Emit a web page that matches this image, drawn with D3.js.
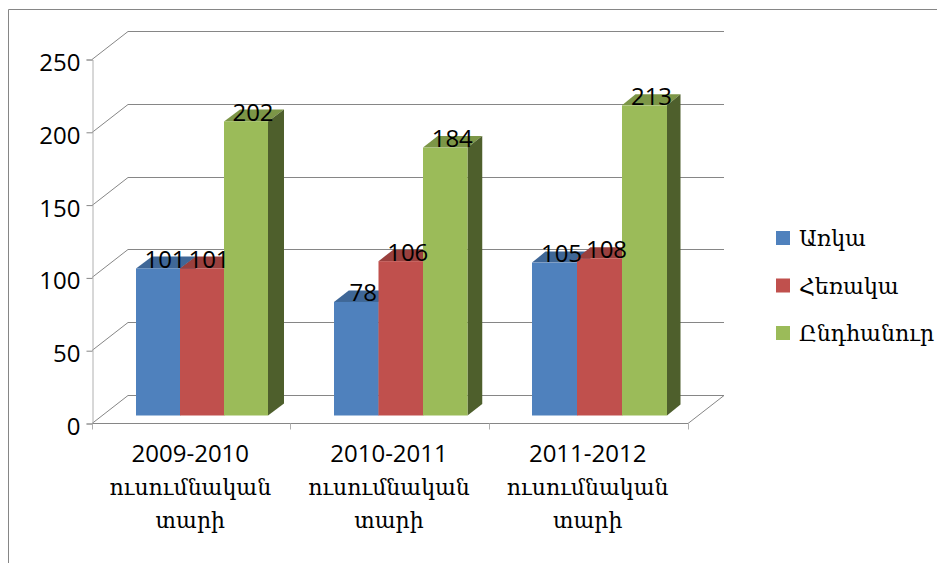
<!DOCTYPE html>
<html>
<head>
<meta charset="utf-8">
<script src="https://cdn.jsdelivr.net/npm/d3@7"></script>
<style>
	html, body { margin: 0; padding: 0; background: #fff; }
	svg { display: block; }
	text { font-family: "Open Sans", "DejaVu Serif", serif; fill: #000; }
	.hy { font-family: "DejaVu Serif", serif; }
</style>
</head>
<body>
<script>
// chart values
var years = ["2009-2010", "2010-2011", "2011-2012"];
var seriesNames = ["Առկա", "Հեռակա", "Ընդհանուր"];
var fulltime = [101, 78, 105];
var parttime = [101, 106, 108];
var total = [202, 184, 213];
var yTicks = [0, 50, 100, 150, 200, 250];
var yearWords = ["ուսումնական", "տարի"];

var seriesValues = [fulltime, parttime, total];
var frontColors = ["#4f81bd", "#c0504d", "#9bbb59"];
var topColors = ["#3f6797", "#9a403e", "#7c9647"];
var sideColors = ["#2f4d71", "#73302e", "#4e5f2c"];

var width = 937, height = 563;
var svg = d3.select("body").append("svg")
	.attr("width", width)
	.attr("height", height);

// frame, only top and left are inside the picture
svg.append("path")
	.attr("d", "M8.5," + height + "V9.5H" + width)
	.attr("fill", "none")
	.attr("stroke", "#868686");

var x = d3.scaleBand().domain(years).range([92, 688]);
var y = d3.scaleLinear().domain([0, 250]).range([423, 59]);

// bars sit on the floor of the 3d box, a bit right of the axis categories
var groupX = d3.scalePoint().domain(years).range([136, 532]);

// the picture has slight perspective: bars get wider and shallower to the right
var groupIdx = [0, 2];
var barWidth = d3.scaleLinear().domain(groupIdx).range([44, 45]);
var barDx = d3.scaleLinear().domain(groupIdx).range([16, 13.5]);
var barDy = d3.scaleLinear().domain(groupIdx).range([-12, -11]);

var boxDx = 36, boxDy = -28;
var shiftY = -7.5;

// back wall grid lines and the diagonals on the left wall
var grid = svg.append("g").attr("stroke", "#868686").attr("fill", "none");
yTicks.forEach(function(t) {
	var py = Math.round(y(t)) + 0.5;
	grid.append("path")
		.attr("d", "M92," + py + "L" + (92 + boxDx) + "," + (py + boxDy) + "H" + (688 + boxDx));
});
// floor, right edge
grid.append("path")
	.attr("d", "M688," + (y(0) + 0.5) + "L" + (688 + boxDx) + "," + (y(0) + 0.5 + boxDy));

// axes
var yAxis = svg.append("g")
	.attr("transform", "translate(92.5,0.5)")
	.call(d3.axisLeft(y).tickValues(yTicks).tickSize(6).tickPadding(6));
yAxis.selectAll("text").style("font-size", "24px").attr("dy", "0.46em");
yAxis.select(".domain").attr("stroke", "#b0b0b0");
yAxis.selectAll("line").attr("stroke", "#868686");

var xAxisLine = svg.append("g")
	.attr("transform", "translate(0," + (y(0) + 0.5) + ")");
xAxisLine.append("line")
	.attr("x1", 92).attr("x2", 688)
	.attr("stroke", "#868686");
d3.range(4).forEach(function(i) {
	var tx = Math.floor(92 + i * x.step()) + 0.5;
	xAxisLine.append("line")
		.attr("x1", tx).attr("x2", tx)
		.attr("y1", 0).attr("y2", 6)
		.attr("stroke", "#b0b0b0");
});

// category labels
years.forEach(function(yr) {
	var cx = x(yr) + x.bandwidth() / 2 - 1;
	var lbl = svg.append("text")
		.attr("text-anchor", "middle")
		.attr("x", cx)
		.style("font-size", "22px");
	lbl.append("tspan").attr("x", cx).attr("y", 462).style("font-size", "24px").text(yr);
	lbl.append("tspan").attr("class", "hy").attr("x", cx).attr("y", 495).text(yearWords[0]);
	lbl.append("tspan").attr("class", "hy").attr("x", cx).attr("y", 528).text(yearWords[1]);
});

// bars
var labels = [];
years.forEach(function(yr, i) {
	var w = barWidth(i), dx = barDx(i), dy = barDy(i);
	seriesValues.forEach(function(vals, s) {
		var x0 = groupX(yr) + s * w;
		var x1 = x0 + w;
		var y0 = y(vals[i]) + shiftY;
		var y1 = y(0) + shiftY;
		var g = svg.append("g");
		g.append("path")
			.attr("fill", topColors[s])
			.attr("d", "M" + x0 + "," + y0 + "L" + (x0 + dx) + "," + (y0 + dy) + "H" + (x1 + dx) + "L" + x1 + "," + y0 + "Z");
		g.append("path")
			.attr("fill", sideColors[s])
			.attr("d", "M" + x1 + "," + y0 + "L" + (x1 + dx) + "," + (y0 + dy) + "V" + (y1 + dy) + "L" + x1 + "," + y1 + "Z");
		g.append("rect")
			.attr("x", x0).attr("y", y0)
			.attr("width", x1 - x0).attr("height", y1 - y0)
			.attr("fill", frontColors[s]);
		labels.push({ x: (x0 + x1) / 2 + 7, y: y0 - 0.5, v: vals[i] });
	});
});

// data labels on top of everything
svg.append("g").selectAll("text").data(labels).join("text")
	.attr("x", function(d) { return d.x; })
	.attr("y", function(d) { return d.y; })
	.attr("text-anchor", "middle")
	.style("font-size", "24px")
	.text(function(d) { return d.v; });

// legend
var legendY = d3.scalePoint().domain(d3.range(3)).range([238, 333]);
var legend = svg.append("g").selectAll("g").data(seriesNames).join("g")
	.attr("transform", function(d, i) { return "translate(776," + legendY(i) + ")"; });
legend.append("rect")
	.attr("y", -7).attr("width", 14).attr("height", 14)
	.attr("fill", function(d, i) { return frontColors[i]; });
legend.append("text")
	.attr("class", "hy")
	.attr("x", 23).attr("y", 8)
	.style("font-size", "22px")
	.text(function(d) { return d; });
</script>
</body>
</html>
